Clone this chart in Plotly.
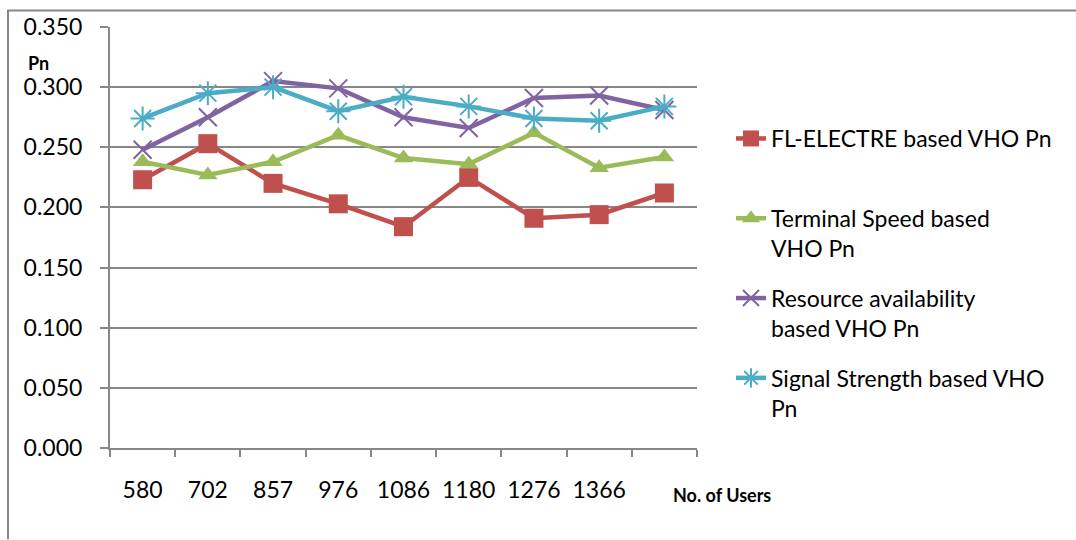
import plotly.graph_objects as go

# ---- data ----
users = ["580", "702", "857", "976", "1086", "1180", "1276", "1366", " "]
fl_electre = [0.223, 0.253, 0.220, 0.203, 0.184, 0.225, 0.191, 0.194, 0.212]
terminal_speed = [0.238, 0.227, 0.238, 0.260, 0.241, 0.236, 0.262, 0.233, 0.242]
resource_avail = [0.248, 0.275, 0.305, 0.299, 0.275, 0.266, 0.291, 0.293, 0.281]
signal_strength = [0.274, 0.295, 0.300, 0.280, 0.292, 0.284, 0.274, 0.272, 0.284]

names = [
    "FL-ELECTRE based VHO Pn<br> ",
    "Terminal Speed based<br>VHO Pn",
    "Resource availability<br>based VHO Pn",
    "Signal Strength based VHO<br>Pn",
]
colors = ["#C0504D", "#9BBB59", "#8064A2", "#4BACC6"]
series = [fl_electre, terminal_speed, resource_avail, signal_strength]
symbols = ["square", "triangle-up", "x-thin-open", "asterisk-open"]
sizes = [19, 17, 18, 20]

FONT = "Lato"
GRID = "#878787"

W, H = 1076, 540
L, R, T, B = 110, 697, 24, 448  # plot area in px

def px(xp):
    return (xp - L) / (R - L)

def py(yp):
    return (B - yp) / (B - T)

fig = go.Figure()
for i, (nm, c, s, sym, sz) in enumerate(zip(names, colors, series, symbols, sizes)):
    mk = dict(symbol=sym, size=sz, color=c)
    if "open" in sym:
        mk["line"] = dict(color=c, width=2)
    fig.add_trace(go.Scatter(
        x=users, y=s, name=nm, mode="lines+markers",
        line=dict(color=c, width=4.5), marker=mk,
        legendgroup=f"g{i}",
    ))

fig.update_layout(
    width=W, height=H,
    margin=dict(l=L, r=W - R, t=T, b=H - B),
    paper_bgcolor="white", plot_bgcolor="white",
    font=dict(family=FONT, size=23, color="black"),
    showlegend=True,
    legend=dict(
        x=731 / W, y=1 - 117 / H, xref="container", yref="container",
        xanchor="left", yanchor="top",
        font=dict(family=FONT, size=23, color="black"),
        tracegroupgap=17, valign="top",
        maxheight=420,
        bgcolor="rgba(0,0,0,0)",
    ),
    xaxis=dict(
        type="category", categoryorder="array", categoryarray=users,
        range=[-0.5, 8.5],
        showline=True, linecolor=GRID, linewidth=2,
        ticks="outside", ticklen=7, tickcolor=GRID, tickwidth=2,
        tickson="boundaries", showgrid=False,
        ticklabelstandoff=20,
        tickfont=dict(family=FONT, size=23, color="black"),
        fixedrange=True,
    ),
    yaxis=dict(
        range=[0, 0.35], dtick=0.05, tick0=0, tickformat=".3f",
        showline=True, linecolor=GRID, linewidth=2,
        ticks="outside", ticklen=8, tickcolor=GRID, tickwidth=2,
        showgrid=True, gridcolor=GRID, gridwidth=2, zeroline=False,
        ticklabelstandoff=13,
        tickfont=dict(family=FONT, size=23, color="black"),
        fixedrange=True,
    ),
    annotations=[
        dict(text="<b>Pn</b>", x=px(38), y=py(60), xref="paper", yref="paper",
             showarrow=False, font=dict(family=FONT, size=18, color="black"),
             xanchor="center", yanchor="middle"),
        dict(text="<b>No. of Users</b>", x=px(722), y=py(495), xref="paper", yref="paper",
             showarrow=False, font=dict(family=FONT, size=18, color="black"),
             xanchor="center", yanchor="middle"),
    ],
    shapes=[
        dict(type="line", xref="paper", yref="paper", x0=px(7), x1=px(1076),
             y0=py(7.5), y1=py(7.5), line=dict(color=GRID, width=2)),
        dict(type="line", xref="paper", yref="paper", x0=px(8), x1=px(8),
             y0=py(7), y1=py(540), line=dict(color=GRID, width=2)),
    ],
)

fig.write_html("out.html")
